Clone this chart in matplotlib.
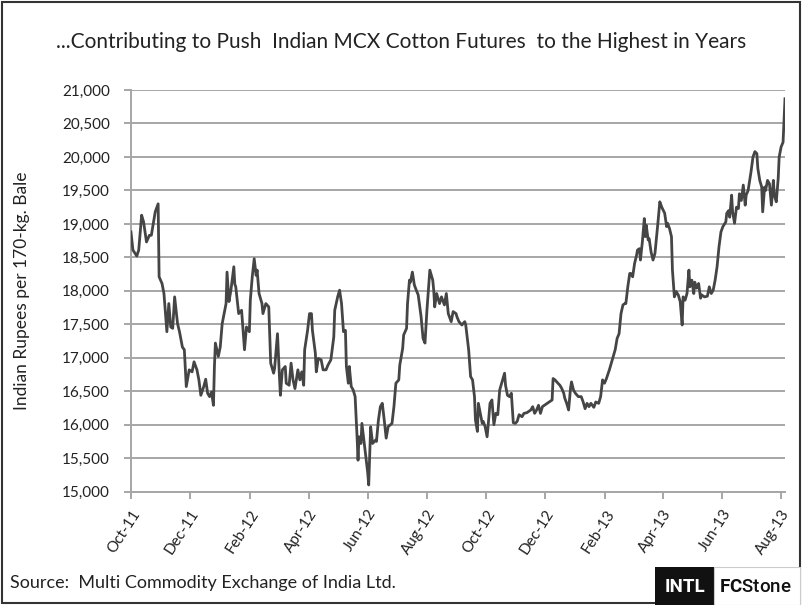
import matplotlib
matplotlib.use("Agg")
import matplotlib.pyplot as plt
import matplotlib.dates as mdates
from matplotlib.patches import Rectangle
from matplotlib.ticker import FuncFormatter, MultipleLocator
import pandas as pd

# MCX cotton futures, Indian rupees per 170-kg bale
dates = [
    # 2011
    "2011-10-01", "2011-10-03", "2011-10-07", "2011-10-09", "2011-10-12", "2011-10-14",
    "2011-10-17", "2011-10-20", "2011-10-22", "2011-10-25", "2011-10-26", "2011-10-29",
    "2011-10-30", "2011-11-02", "2011-11-04", "2011-11-07", "2011-11-09", "2011-11-11",
    "2011-11-13", "2011-11-15", "2011-11-18", "2011-11-20", "2011-11-23", "2011-11-25",
    "2011-11-27", "2011-11-30", "2011-12-03", "2011-12-05", "2011-12-08", "2011-12-10",
    "2011-12-12", "2011-12-15", "2011-12-17", "2011-12-19", "2011-12-21", "2011-12-23",
    "2011-12-25", "2011-12-26", "2011-12-27", "2011-12-30",
    # 2012
    "2012-01-01", "2012-01-03", "2012-01-05", "2012-01-07", "2012-01-08", "2012-01-10",
    "2012-01-12", "2012-01-15", "2012-01-16", "2012-01-17", "2012-01-20", "2012-01-23",
    "2012-01-26", "2012-01-28", "2012-01-31", "2012-02-01", "2012-02-03", "2012-02-05",
    "2012-02-07", "2012-02-08", "2012-02-10", "2012-02-13", "2012-02-14", "2012-02-17",
    "2012-02-20", "2012-02-22", "2012-02-25", "2012-02-26", "2012-02-29", "2012-03-02",
    "2012-03-03", "2012-03-05", "2012-03-08", "2012-03-09", "2012-03-12", "2012-03-14",
    "2012-03-16", "2012-03-18", "2012-03-20", "2012-03-21", "2012-03-23", "2012-03-25",
    "2012-03-27", "2012-03-28", "2012-03-31", "2012-04-02", "2012-04-04", "2012-04-05",
    "2012-04-08", "2012-04-09", "2012-04-11", "2012-04-14", "2012-04-16", "2012-04-19",
    "2012-04-21", "2012-04-24", "2012-04-27", "2012-04-28", "2012-05-01", "2012-05-03",
    "2012-05-05", "2012-05-07", "2012-05-09", "2012-05-10", "2012-05-12", "2012-05-13",
    "2012-05-15", "2012-05-17", "2012-05-19", "2012-05-21", "2012-05-22", "2012-05-23",
    "2012-05-25", "2012-05-26", "2012-05-29", "2012-05-30", "2012-06-01", "2012-06-02",
    "2012-06-04", "2012-06-06", "2012-06-09", "2012-06-10", "2012-06-12", "2012-06-14",
    "2012-06-16", "2012-06-18", "2012-06-20", "2012-06-22", "2012-06-26", "2012-06-28",
    "2012-06-30", "2012-07-03", "2012-07-04", "2012-07-07", "2012-07-08", "2012-07-11",
    "2012-07-12", "2012-07-14", "2012-07-15", "2012-07-17", "2012-07-19", "2012-07-21",
    "2012-07-23", "2012-07-26", "2012-07-28", "2012-07-30", "2012-08-01", "2012-08-03",
    "2012-08-04", "2012-08-07", "2012-08-08", "2012-08-09", "2012-08-11", "2012-08-14",
    "2012-08-16", "2012-08-19", "2012-08-21", "2012-08-23", "2012-08-26", "2012-08-28",
    "2012-08-31", "2012-09-01", "2012-09-03", "2012-09-06", "2012-09-09", "2012-09-10",
    "2012-09-13", "2012-09-15", "2012-09-17", "2012-09-19", "2012-09-20", "2012-09-22",
    "2012-09-23", "2012-09-25", "2012-09-27", "2012-09-28", "2012-09-30", "2012-10-02",
    "2012-10-03", "2012-10-05", "2012-10-07", "2012-10-09", "2012-10-11", "2012-10-13",
    "2012-10-15", "2012-10-16", "2012-10-18", "2012-10-20", "2012-10-21", "2012-10-23",
    "2012-10-25", "2012-10-27", "2012-10-29", "2012-10-31", "2012-11-02", "2012-11-04",
    "2012-11-07", "2012-11-09", "2012-11-12", "2012-11-14", "2012-11-16", "2012-11-18",
    "2012-11-20", "2012-11-22", "2012-11-24", "2012-11-26", "2012-11-28", "2012-11-30",
    "2012-12-03", "2012-12-05", "2012-12-08", "2012-12-09", "2012-12-11", "2012-12-14",
    "2012-12-16", "2012-12-18", "2012-12-20", "2012-12-21", "2012-12-23", "2012-12-25",
    "2012-12-27", "2012-12-28", "2012-12-30",
    # 2013
    "2013-01-01", "2013-01-04", "2013-01-07", "2013-01-09", "2013-01-11", "2013-01-13",
    "2013-01-15", "2013-01-17", "2013-01-20", "2013-01-22", "2013-01-25", "2013-01-27",
    "2013-01-29", "2013-01-31", "2013-02-02", "2013-02-05", "2013-02-08", "2013-02-09",
    "2013-02-11", "2013-02-13", "2013-02-15", "2013-02-17", "2013-02-19", "2013-02-21",
    "2013-02-22", "2013-02-24", "2013-02-26", "2013-02-27", "2013-03-01", "2013-03-03",
    "2013-03-05", "2013-03-06", "2013-03-08", "2013-03-09", "2013-03-11", "2013-03-13",
    "2013-03-14", "2013-03-15", "2013-03-17", "2013-03-18", "2013-03-20", "2013-03-22",
    "2013-03-24", "2013-03-25", "2013-03-27", "2013-03-29", "2013-03-31", "2013-04-03",
    "2013-04-05", "2013-04-06", "2013-04-08", "2013-04-10", "2013-04-11", "2013-04-13",
    "2013-04-15", "2013-04-16", "2013-04-17", "2013-04-19", "2013-04-21", "2013-04-22",
    "2013-04-24", "2013-04-26", "2013-04-28", "2013-04-29", "2013-05-01", "2013-05-03",
    "2013-05-04", "2013-05-06", "2013-05-08", "2013-05-10", "2013-05-11", "2013-05-14",
    "2013-05-17", "2013-05-19", "2013-05-21", "2013-05-23", "2013-05-25", "2013-05-27",
    "2013-05-29", "2013-05-31", "2013-06-02", "2013-06-05", "2013-06-06", "2013-06-08",
    "2013-06-09", "2013-06-11", "2013-06-12", "2013-06-14", "2013-06-16", "2013-06-18",
    "2013-06-19", "2013-06-21", "2013-06-23", "2013-06-25", "2013-06-26", "2013-06-28",
    "2013-06-30", "2013-07-01", "2013-07-03", "2013-07-05", "2013-07-07", "2013-07-08",
    "2013-07-10", "2013-07-12", "2013-07-13", "2013-07-15", "2013-07-16", "2013-07-18",
    "2013-07-20", "2013-07-22", "2013-07-24", "2013-07-25", "2013-07-27", "2013-07-29",
    "2013-07-30", "2013-08-01", "2013-08-03", "2013-08-04", "2013-08-05",
]

prices = [
    # 2011
    18880, 18610, 18520, 18610, 19130, 19030,
    18730, 18830, 18830, 19100, 19180, 19300,
    18210, 18110, 17960, 17390, 17810, 17460,
    17440, 17910, 17510, 17390, 17160, 17120,
    16570, 16820, 16790, 16940, 16820, 16670,
    16440, 16570, 16680, 16470, 16420, 16490,
    16290, 16870, 17220, 17020,
    # 2012
    17160, 17510, 17660, 17810, 18280, 17840,
    18010, 18360, 18100, 18060, 17660, 17710,
    17120, 17460, 17390, 17860, 18210, 18480,
    18230, 18310, 17960, 17810, 17660, 17810,
    17760, 16920, 16770, 16840, 17360, 16720,
    16440, 16820, 16870, 16620, 16590, 16920,
    16670, 16540, 16720, 16820, 16670, 16790,
    16590, 17120, 17410, 17660, 17660, 17410,
    17070, 16790, 16990, 16970, 16820, 16820,
    16890, 16970, 17310, 17710, 17910, 18010,
    17810, 17390, 17410, 16870, 16620, 16870,
    16570, 16520, 16420, 15820, 15470, 15820,
    15720, 16020, 15650, 15520, 15280, 15100,
    15970, 15720, 15770, 15750, 16070, 16270,
    16320, 16070, 15800, 15970, 16020, 16270,
    16620, 16670, 16890, 17140, 17340, 17440,
    17810, 18160, 18130, 18280, 18090, 18010,
    17940, 17610, 17290, 17220, 17710, 18110,
    18310, 18160, 18010, 17760, 17960, 17810,
    17910, 17790, 17960, 17660, 17540, 17690,
    17660, 17610, 17540, 17490, 17540, 17490,
    17120, 16720, 16670, 16420, 16070, 15900,
    16320, 16170, 16020, 16050, 15970, 15820,
    15970, 16320, 16370, 16000, 16170, 16150,
    16520, 16570, 16670, 16770, 16590, 16440,
    16420, 16470, 16030, 16020, 16050, 16150,
    16120, 16170, 16180, 16200, 16220, 16270,
    16170, 16220, 16290, 16170, 16270, 16290,
    16320, 16340, 16370, 16690, 16670, 16620,
    16590, 16540, 16470, 16400, 16320, 16220,
    16550, 16640, 16520,
    # 2013
    16470, 16420, 16420, 16340, 16240, 16320,
    16270, 16320, 16260, 16340, 16320, 16420,
    16670, 16620, 16690, 16820, 16970, 17020,
    17120, 17290, 17360, 17660, 17790, 17810,
    17810, 18060, 18260, 18260, 18210, 18410,
    18530, 18610, 18630, 18460, 18730, 19080,
    18810, 18980, 18760, 18780, 18580, 18460,
    18560, 18710, 19010, 19330, 19250, 19160,
    18960, 19010, 18930, 18810, 18310, 17910,
    17990, 17960, 17940, 17840, 17490, 17910,
    17860, 17960, 18310, 18060, 18160, 17960,
    18130, 18040, 18110, 17890, 17940, 17910,
    17920, 18060, 17960, 18010, 18160, 18360,
    18660, 18880, 18960, 19030, 19160, 19200,
    19100, 19430, 19180, 19010, 19250, 19230,
    19450, 19350, 19580, 19280, 19430, 19500,
    19680, 19780, 20000, 20080, 20050, 19830,
    19650, 19550, 19180, 19550, 19500, 19650,
    19600, 19280, 19650, 19430, 19330, 19680,
    20000, 20150, 20220, 20550, 20870,
]

tick_months = ["2011-10-01", "2011-12-01", "2012-02-01", "2012-04-01", "2012-06-01",
               "2012-08-01", "2012-10-01", "2012-12-01", "2013-02-01", "2013-04-01",
               "2013-06-01", "2013-08-01"]

title_text = "...Contributing to Push  Indian MCX Cotton Futures  to the Highest in Years"
y_label = "Indian Rupees per 170-kg. Bale"
source_text = "Source:  Multi Commodity Exchange of India Ltd."

FONT = ["Lato", "DejaVu Sans"]
LOGO_FONT = ["Roboto", "DejaVu Sans"]
plt.rcParams["font.family"] = FONT
# bold part of the wordmark is set through mathtext in Roboto
plt.rcParams["mathtext.fontset"] = "custom"
plt.rcParams["mathtext.bf"] = "Roboto:bold"
plt.rcParams["mathtext.rm"] = "Roboto"

x = pd.to_datetime(dates)

fig = plt.figure(figsize=(8.02, 6.05), dpi=100)
ax = fig.add_axes([0.1633, 0.1873, 0.8155, 0.6639])

ax.plot(x, prices, color="#454545", lw=2.0, solid_joinstyle="round", zorder=3)

ax.set_ylim(15000, 21000)
ax.set_xlim(pd.Timestamp("2011-10-01"), pd.Timestamp("2013-08-05"))
ax.yaxis.set_major_locator(MultipleLocator(500))
ax.yaxis.set_major_formatter(FuncFormatter(lambda v, _: f"{int(v):,}"))
ax.grid(axis="y", color="#a6a6a6", lw=1.4, zorder=1)

ticks = pd.to_datetime(tick_months)
ax.set_xticks(ticks)
ax.xaxis.set_major_formatter(mdates.DateFormatter("%b-%y"))
for lbl in ax.get_xticklabels():
    lbl.set_rotation(57)
    lbl.set_ha("right")
    lbl.set_rotation_mode("anchor")

for side in ("top", "right"):
    ax.spines[side].set_visible(False)
for side in ("left", "bottom"):
    ax.spines[side].set_color("#a6a6a6")
    ax.spines[side].set_linewidth(1.4)

ax.tick_params(axis="both", colors="#a6a6a6", width=1.4, length=5)
ax.tick_params(axis="y", labelsize=11, labelcolor="#222222", pad=10)
ax.tick_params(axis="x", labelsize=11, labelcolor="#222222", pad=6)

ax.set_ylabel(y_label, fontsize=12.5, color="#222222")
ax.yaxis.set_label_coords(-0.155, 0.5)

fig.text(0.5, 0.93, title_text, ha="center", va="center", fontsize=15, color="#222222")
fig.text(0.013, 0.036, source_text, ha="left", va="center", fontsize=13, color="#222222")

# INTL FCStone logo block
fig.patches.append(Rectangle((655 / 802, 0), 59 / 802, 38 / 605, transform=fig.transFigure,
                             facecolor="#111111", edgecolor="none", zorder=5))
fig.patches.append(Rectangle((714 / 802, 0), 86 / 802, 38 / 605, transform=fig.transFigure,
                             facecolor="white", edgecolor="#cccccc", lw=0.8, zorder=5))
logo_y = 1 - 587 / 605
fig.text(684.5 / 802, logo_y, "INTL", ha="center", va="center", fontsize=13.5,
         fontweight="bold", color="white", family=LOGO_FONT, zorder=6)
fig.text(719 / 802, logo_y, r"$\mathbf{FC}$Stone", ha="left", va="center", fontsize=13.5,
         fontweight="medium", color="#111111", family=LOGO_FONT, zorder=6)

# outer frame
fig.patches.append(Rectangle((0.002, 0.003), 0.996, 0.994, transform=fig.transFigure,
                             facecolor="none", edgecolor="#333333", lw=1.5, zorder=0))

fig.savefig("out.png", dpi=100)
